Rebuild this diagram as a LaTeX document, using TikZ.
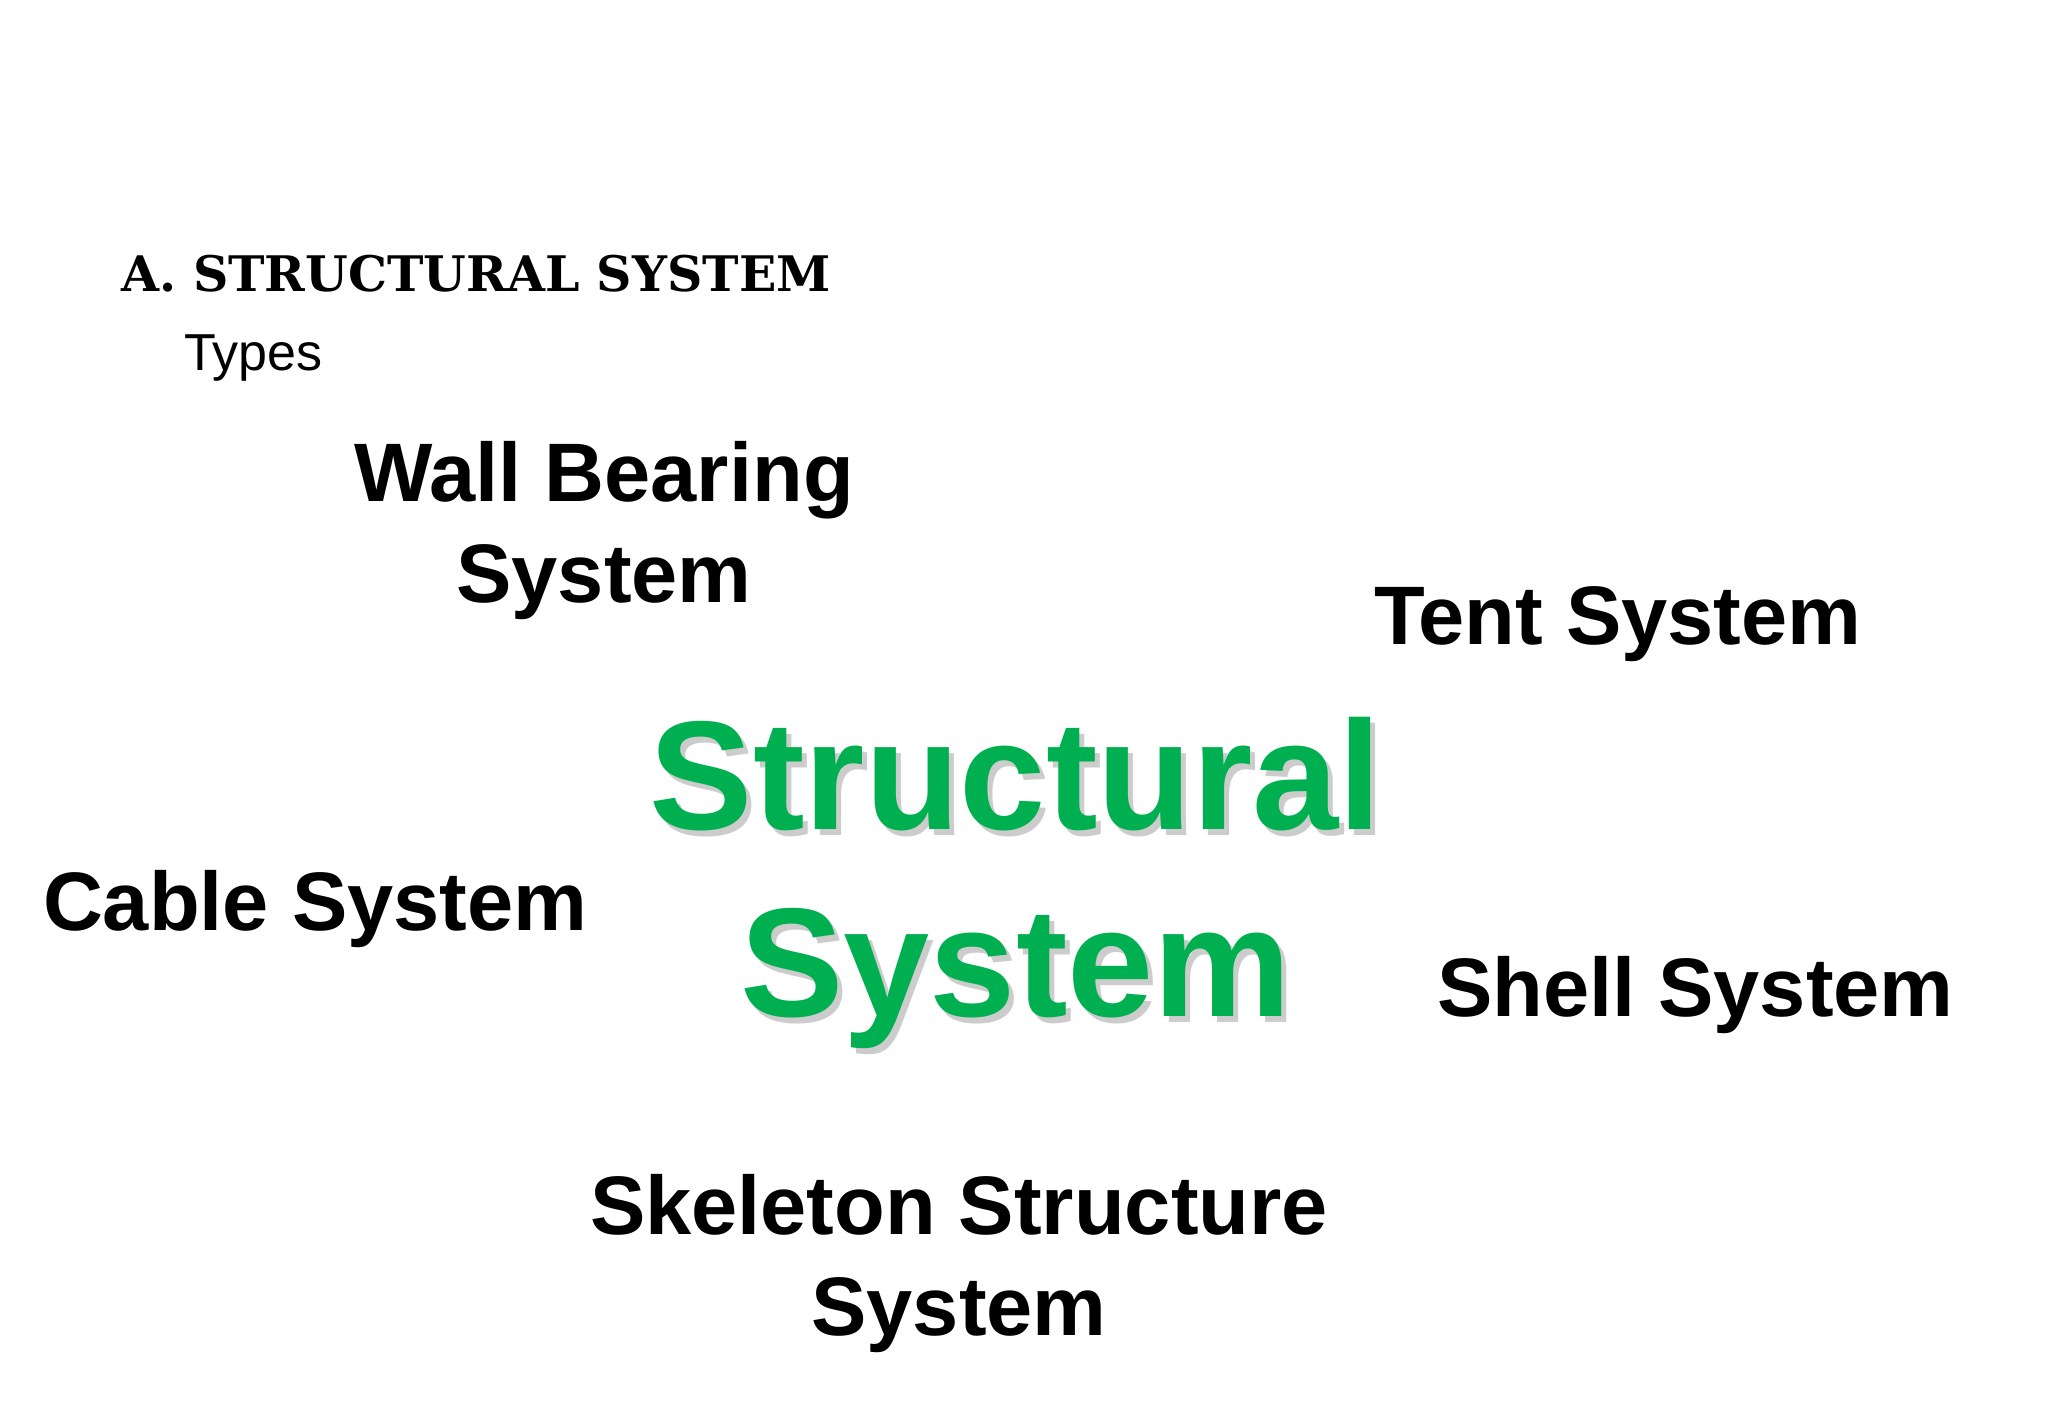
\documentclass[tikz,border=0pt]{standalone}
\usepackage{fontspec}
\usepackage{tikz}
\setmainfont{Liberation Sans}
\newfontfamily\slab{DejaVu Serif}
\definecolor{vertsys}{RGB}{0,176,80}
\colorlet{colombre}{black!20}
\tikzstyle{noeud}=[inner sep=0, outer sep=0]
\tikzstyle{sys}=[noeud, font=\fontsize{41.5}{50.5}\selectfont\bfseries, align=center]
\tikzstyle{titre}=[noeud, font=\fontsize{24.5}{28}\slab\bfseries]
\tikzstyle{coeur}=[noeud, font=\fontsize{77.5}{93.5}\selectfont\bfseries, align=center]
\newcommand{\centre}[2]{
  \node[coeur, colombre, anchor=base] at ([shift={(5,6)}]#1) {Structural\\System};
  \node[coeur, text=vertsys, anchor=base] (#2) at (#1) {Structural\\System};
}
\begin{document}
\begin{tikzpicture}[x=0.5pt,y=-0.5pt]
\useasboundingbox[fill=white] (0,0) rectangle (2048,1418);

% titre
\node[titre, anchor=base west] (titre) at (121,291) {A. STRUCTURAL SYSTEM};
\node[noeud, anchor=base west, font=\fontsize{26}{30}\selectfont] (types) at (184,370) {Types};

% types
\node[sys, anchor=base] (mur) at (604,602) {Wall Bearing\\System};
\node[sys, anchor=base west] (tente) at (1374,644) {Tent System};
\node[sys, anchor=base west] (cable) at (43,930) {Cable System};
\node[sys, anchor=base west] (coque) at (1437,1016) {Shell System};
\node[sys, anchor=base] (ossature) at (959,1335) {Skeleton Structure\\System};

% centre
\coordinate (milieu) at (1016,1016);
\centre{milieu}{struct}
\end{tikzpicture}
\end{document}
